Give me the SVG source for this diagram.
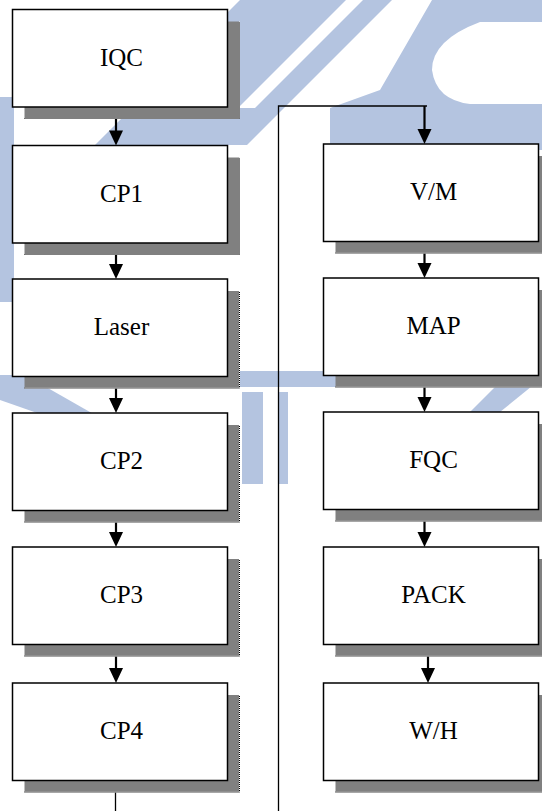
<svg xmlns="http://www.w3.org/2000/svg" width="542" height="811" viewBox="0 0 542 811">
<style>
.wm{fill:#b4c4e0;stroke:none}
.shadow{fill:#808080;stroke:none}
.sedge{fill:none;stroke:#000;stroke-width:1;stroke-dasharray:1 1}
.sedgew{fill:none;stroke:#fff;stroke-width:1}
.box{fill:#fff;stroke:#000;stroke-width:1.5}
.lbl{font-family:"Liberation Serif","Times New Roman",serif;font-size:25px;fill:#000;text-anchor:middle}
.thick{stroke:#000;stroke-width:2.2;fill:none}
.thin{stroke:#000;stroke-width:1.3;fill:none}
.head{fill:#000;stroke:none}
</style>
<defs>
<g id="sh">
<rect class="shadow" x="0" y="0" width="215" height="97.5"/>
<path class="sedgew" d="M0,97 H215 V0"/>
<path class="sedge" d="M0,97 H215 V0"/>
</g>
</defs>
<rect x="0" y="0" width="542" height="811" fill="#fff"/>
<g id="watermark">
<polygon class="wm" points="240,0 392,0 247,145 95,145"/>
<polygon fill="#fff" points="346,0 363,0 255,108 238,108"/>
<polygon class="wm" points="432,0 542,0 542,150 330,150 330,108 380,90"/>
<path fill="#fff" d="M542,22 L480,22 Q432,40 432,70 Q436,100 470,104 L542,104 Z"/>
<rect class="wm" x="0" y="97" width="14" height="205"/>
<rect class="wm" x="200" y="371" width="150" height="16"/>
<rect class="wm" x="242" y="392" width="21" height="92"/>
<rect class="wm" x="279" y="392" width="9" height="92"/>
<polygon class="wm" points="0,375 25,375 118,428 80,428 0,400"/>
<polygon class="wm" points="542,340 542,378 500,412 470,412"/>
</g>
<g id="connectors">
<path class="thin" d="M278.5,811 V106 H427"/>
<path class="thin" d="M115.5,780 V811"/>
<path class="thick" d="M116,107 V131"/><polygon class="head" points="109,130.5 123,130.5 116,145.5"/>
<path class="thick" d="M116,243 V265"/><polygon class="head" points="109,264 123,264 116,279"/>
<path class="thick" d="M116,376.5 V399"/><polygon class="head" points="109,398 123,398 116,413"/>
<path class="thick" d="M116,510.5 V533"/><polygon class="head" points="109,532 123,532 116,547"/>
<path class="thick" d="M116,644.5 V669"/><polygon class="head" points="109,668 123,668 116,683"/>
<path class="thick" d="M424.5,106 V130"/><polygon class="head" points="417.5,129 431.5,129 424.5,144"/>
<path class="thick" d="M424.5,241.5 V264"/><polygon class="head" points="417.5,263 431.5,263 424.5,278"/>
<path class="thick" d="M424.5,375.5 V398"/><polygon class="head" points="417.5,397 431.5,397 424.5,412"/>
<path class="thick" d="M424.5,509.5 V533"/><polygon class="head" points="417.5,532 431.5,532 424.5,547"/>
<path class="thick" d="M428,642 V669"/><polygon class="head" points="421,668 435,668 428,683"/>
</g>
<g id="n-iqc"><use href="#sh" x="24.5" y="21.5"/><rect class="box" x="12.5" y="9.5" width="215" height="97.5"/><text class="lbl" x="121.5" y="65.5">IQC</text></g>
<g id="n-cp1"><use href="#sh" x="24.5" y="157.5"/><rect class="box" x="12.5" y="145.5" width="215" height="97.5"/><text class="lbl" x="121.5" y="201.5">CP1</text></g>
<g id="n-laser"><use href="#sh" x="24.5" y="291"/><rect class="box" x="12.5" y="279" width="215" height="97.5"/><text class="lbl" x="121.5" y="335">Laser</text></g>
<g id="n-cp2"><use href="#sh" x="24.5" y="425"/><rect class="box" x="12.5" y="413" width="215" height="97.5"/><text class="lbl" x="121.5" y="469">CP2</text></g>
<g id="n-cp3"><use href="#sh" x="24.5" y="559"/><rect class="box" x="12.5" y="547" width="215" height="97.5"/><text class="lbl" x="121.5" y="603">CP3</text></g>
<g id="n-cp4"><use href="#sh" x="24.5" y="695"/><rect class="box" x="12.5" y="683" width="215" height="97.5"/><text class="lbl" x="121.5" y="739">CP4</text></g>
<g id="n-vm"><use href="#sh" x="335.5" y="156"/><rect class="box" x="323.5" y="144" width="215" height="97.5"/><text class="lbl" x="433.5" y="200">V/M</text></g>
<g id="n-map"><use href="#sh" x="335.5" y="290"/><rect class="box" x="323.5" y="278" width="215" height="97.5"/><text class="lbl" x="433.5" y="334">MAP</text></g>
<g id="n-fqc"><use href="#sh" x="335.5" y="424"/><rect class="box" x="323.5" y="412" width="215" height="97.5"/><text class="lbl" x="433.5" y="468">FQC</text></g>
<g id="n-pack"><use href="#sh" x="335.5" y="559"/><rect class="box" x="323.5" y="547" width="215" height="97.5"/><text class="lbl" x="433.5" y="603">PACK</text></g>
<g id="n-wh"><use href="#sh" x="335.5" y="695"/><rect class="box" x="323.5" y="683" width="215" height="97.5"/><text class="lbl" x="433.5" y="739">W/H</text></g>
</svg>
